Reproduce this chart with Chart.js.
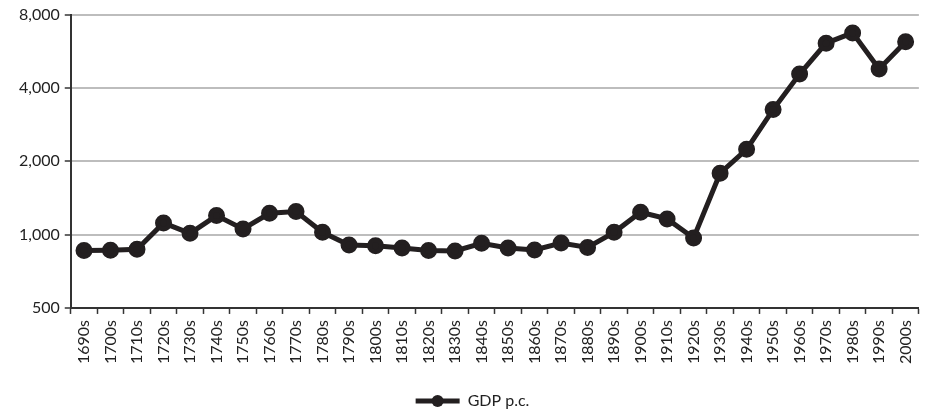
<!DOCTYPE html>
<html>
<head>
<meta charset="utf-8">
<script src="https://cdn.jsdelivr.net/npm/chart.js@4/dist/chart.umd.min.js"></script>
<style>
  html, body { margin: 0; padding: 0; background: #fff; }
  #wrap { width: 931px; height: 410px; }
</style>
</head>
<body>
<div id="wrap"><canvas id="chart"></canvas></div>
<script>
// decades on the x axis
const decades = ["1690s","1700s","1710s","1720s","1730s","1740s","1750s","1760s","1770s","1780s",
  "1790s","1800s","1810s","1820s","1830s","1840s","1850s","1860s","1870s","1880s",
  "1890s","1900s","1910s","1920s","1930s","1940s","1950s","1960s","1970s","1980s","1990s","2000s"];

// GDP per capita
const gdpPc = [860, 863, 870, 1117, 1012, 1197, 1055, 1223, 1243, 1022,
  907, 900, 882, 860, 857, 921, 882, 865, 924, 886,
  1022, 1235, 1160, 969, 1786, 2240, 3260, 4560, 6106, 6730, 4788, 6190];

const yTicks = [500, 1000, 2000, 4000, 8000];

const ink = "#231f20";
Chart.defaults.font.family = "Lato, 'Open Sans', sans-serif";
Chart.defaults.color = "#222";

// nudge the legend down a bit and put a dot in the middle of its line
const legendDot = {
  id: "legendDot",
  afterLayout(chart) {
    const lg = chart.legend;
    if (!lg) return;
    lg.top += 9;
    lg.bottom += 9;
  },
  afterDraw(chart) {
    const boxes = chart.legend && chart.legend.legendHitBoxes;
    if (!boxes) return;
    const ctx = chart.ctx;
    boxes.forEach(b => {
      const bw = chart.legend.options.labels.boxWidth;
      ctx.save();
      ctx.fillStyle = ink;
      ctx.beginPath();
      ctx.arc(b.left + bw / 2, b.top + b.height / 2, 6, 0, Math.PI * 2);
      ctx.fill();
      ctx.restore();
    });
  }
};

new Chart(document.getElementById("chart"), {
  type: "line",
  data: {
    labels: decades,
    datasets: [{
      label: "GDP p.c.",
      data: gdpPc,
      borderColor: ink,
      backgroundColor: ink,
      borderWidth: 5,
      pointRadius: 6,
      pointHoverRadius: 6,
      pointBackgroundColor: ink,
      pointBorderColor: ink,
      tension: 0
    }]
  },
  options: {
    responsive: true,
    maintainAspectRatio: false,
    animation: false,
    layout: { padding: { top: 6, right: 0, left: 14, bottom: 0 } },
    plugins: {
      tooltip: { enabled: false },
      legend: {
        position: "bottom",
        labels: {
          boxWidth: 44,
          boxHeight: 5,
          font: { size: 16 },
          color: "#222",
          padding: 14,
          generateLabels: chart => chart.data.datasets.map((ds, i) => ({
            text: ds.label,
            fillStyle: ink,
            strokeStyle: "rgba(0,0,0,0)",
            lineWidth: 0,
            datasetIndex: i,
            fontColor: "#222"
          }))
        }
      }
    },
    scales: {
      x: {
        offset: true,
        grid: {
          offset: true,
          drawOnChartArea: false,
          tickLength: 6,
          tickColor: "#333",
          tickWidth: 1.5
        },
        border: { color: "#333", width: 2 },
        ticks: {
          autoSkip: false,
          maxRotation: 90,
          minRotation: 90,
          font: { size: 16 },
          padding: 6
        }
      },
      y: {
        type: "logarithmic",
        min: 500,
        max: 8000,
        afterBuildTicks(axis) {
          axis.ticks = yTicks.map(v => ({ value: v }));
        },
        grid: {
          color: "#bdbdbd",
          lineWidth: 2,
          tickLength: 6,
          tickColor: "#333",
          tickWidth: 1.5
        },
        border: { color: "#333", width: 2 },
        ticks: {
          font: { size: 16 },
          padding: 5,
          callback: v => v.toLocaleString("en-US")
        }
      }
    }
  },
  plugins: [legendDot]
});
</script>
</body>
</html>
